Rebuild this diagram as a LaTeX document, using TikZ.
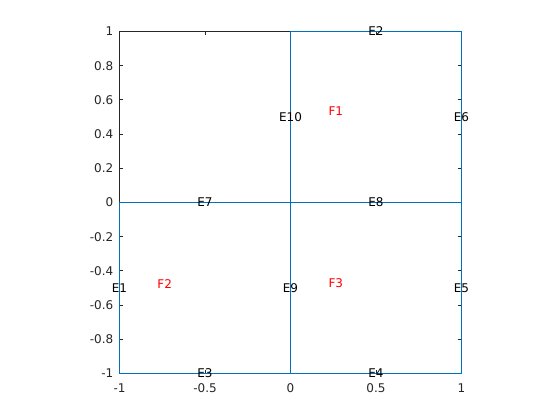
\documentclass[tikz,border=0pt]{standalone}
\usepackage{fontspec}
\setmainfont{DejaVu Sans}
\definecolor{matblue}{rgb}{0,0.447,0.741}
\definecolor{axgray}{rgb}{0.15,0.15,0.15}
\tikzset{
  edgelbl/.style={text=black,inner sep=0pt,font=\fontsize{12}{13}\selectfont},
  facelbl/.style={edgelbl,text=red},
  ticklbl/.style={text=axgray,inner sep=0pt,font=\fontsize{12}{13}\selectfont},
  meshline/.style={draw=matblue,line width=1pt},
  axline/.style={draw=axgray,line width=0.8pt}
}
\begin{document}
\begin{tikzpicture}
[x=171pt,y=171pt]
\useasboundingbox (-1.6988,-1.2719) rectangle (1.5760,1.1842);
% Axes box and ticks
\draw[axline] (-1,-1) rectangle (1,1);
\foreach \t in {-1,-0.5,0,0.5,1}{
  \draw[axline] (\t,-1) -- (\t,-0.98);
  \draw[axline] (\t,1) -- (\t,0.98);
  \node[ticklbl] (X\t) at (\t,-1.088) {\t};
}
\foreach \t in {-1,-0.8,-0.6,-0.4,-0.2,0,0.2,0.4,0.6,0.8,1}{
  \draw[axline] (-1,\t) -- (-0.98,\t);
  \draw[axline] (1,\t) -- (0.98,\t);
}
\node[ticklbl,anchor=east] (Y1)  at (-1.035,1)    {1};
\node[ticklbl,anchor=east] (Y2)  at (-1.035,0.8)  {0.8};
\node[ticklbl,anchor=east] (Y3)  at (-1.035,0.6)  {0.6};
\node[ticklbl,anchor=east] (Y4)  at (-1.035,0.4)  {0.4};
\node[ticklbl,anchor=east] (Y5)  at (-1.035,0.2)  {0.2};
\node[ticklbl,anchor=east] (Y6)  at (-1.035,0)    {0};
\node[ticklbl,anchor=east] (Y7)  at (-1.035,-0.2) {-0.2};
\node[ticklbl,anchor=east] (Y8)  at (-1.035,-0.4) {-0.4};
\node[ticklbl,anchor=east] (Y9)  at (-1.035,-0.6) {-0.6};
\node[ticklbl,anchor=east] (Y10) at (-1.035,-0.8) {-0.8};
\node[ticklbl,anchor=east] (Y11) at (-1.035,-1)   {-1};

% Mesh vertices
\coordinate (V1) at (-1,-1);
\coordinate (V2) at (0,-1);
\coordinate (V3) at (1,-1);
\coordinate (V4) at (-1,0);
\coordinate (V5) at (0,0);
\coordinate (V6) at (1,0);
\coordinate (V7) at (0,1);
\coordinate (V8) at (1,1);

% Mesh edges
\draw[meshline] (V4) -- (V1) -- (V3) -- (V8) -- (V7);
\draw[meshline] (V7) -- (V2);
\draw[meshline] (V4) -- (V6);

% Edge labels
\node[edgelbl] (E1)  at (-1,-0.5)  {E1};
\node[edgelbl] (E2)  at (0.5,1)    {E2};
\node[edgelbl] (E3)  at (-0.5,-1)  {E3};
\node[edgelbl] (E4)  at (0.5,-1)   {E4};
\node[edgelbl] (E5)  at (1,-0.5)   {E5};
\node[edgelbl] (E6)  at (1,0.5)    {E6};
\node[edgelbl] (E7)  at (-0.5,0)   {E7};
\node[edgelbl] (E8)  at (0.5,0)    {E8};
\node[edgelbl] (E9)  at (0,-0.5)   {E9};
\node[edgelbl] (E10) at (0,0.5)    {E10};

% Face labels
\node[facelbl] (F1) at (0.265,0.532)   {F1};
\node[facelbl] (F2) at (-0.736,-0.474) {F2};
\node[facelbl] (F3) at (0.265,-0.474)  {F3};
\end{tikzpicture}
\end{document}
